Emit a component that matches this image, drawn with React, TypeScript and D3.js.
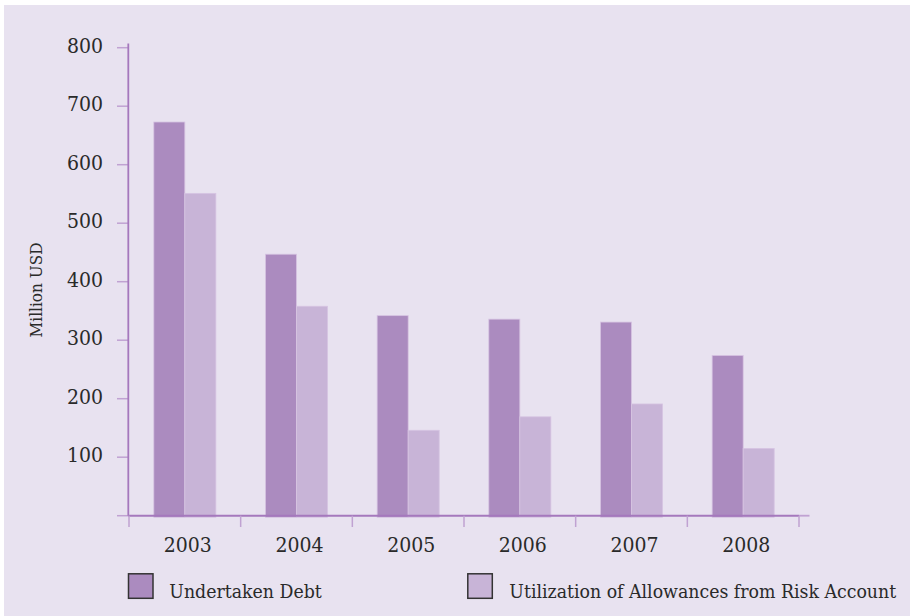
import React from "react";
import * as d3 from "d3";

const years = ["2003", "2004", "2005", "2006", "2007", "2008"];
const undertakenDebt = [673, 447, 342, 336, 331, 274];
const riskAllowances = [551, 358, 146, 169, 191, 115];
const seriesNames = ["Undertaken Debt", "Utilization of Allowances from Risk Account"];
const seriesColors = ["#AB8BBF", "#C8B4D7"];
const yTicks = [100, 200, 300, 400, 500, 600, 700, 800];
const yLabel = "Million USD";

const W = 910;
const H = 616;
const FONT = "'DejaVu Serif Condensed', 'Liberation Serif', serif";

export default function App() {
  const x = d3.scaleBand<string>().domain(years).range([129, 799]).paddingInner(0).paddingOuter(0);
  const xs = d3.scaleBand<string>().domain(["a", "b"]).range([0, x.bandwidth()]).paddingInner(0).paddingOuter(0.8);
  const y = d3.scaleLinear().domain([0, 800]).range([515.7, 47.7]);
  const base = y(0);
  const series = [undertakenDebt, riskAllowances];
  const boundaries = years.map((yr) => x(yr) as number).concat([x.range()[1]]);

  return (
    <svg width={W} height={H} style={{ position: "absolute", left: 0, top: 0 }} fontFamily={FONT}>
      <rect x={0} y={0} width={W} height={H} fill="#ffffff" />
      <rect x={4} y={5} width={W - 4} height={H - 5} fill="#E8E2F0" />

      {years.map((yr, i) => (
        <g key={yr} transform={`translate(${x(yr)},0)`}>
          {series.map((s, j) => (
            <rect
              key={j}
              x={(xs(j === 0 ? "a" : "b") as number)}
              y={y(s[i])}
              width={xs.bandwidth()}
              height={base - y(s[i]) + 1.5}
              fill={seriesColors[j]}
              stroke="#D6C4E2"
              strokeWidth={0.8}
            />
          ))}
        </g>
      ))}

      {yTicks.concat([0]).map((t) => (
        <line key={"yt" + t} x1={117} x2={128} y1={y(t)} y2={y(t)} stroke="#C0A2D2" strokeWidth={1.5} />
      ))}
      {yTicks.map((t) => (
        <text key={"yl" + t} x={103} y={y(t) + 4.8} textAnchor="end" fontSize={21} fill="#2a2a2a">
          {t}
        </text>
      ))}
      <line x1={128.3} x2={128.3} y1={43.5} y2={base} stroke="#A578BD" strokeWidth={1.8} />

      <line x1={799} x2={809.5} y1={base} y2={base} stroke="#C0A2D2" strokeWidth={1.8} />
      <line x1={128} x2={799} y1={base} y2={base} stroke="#A578BD" strokeWidth={2} />
      {boundaries.map((b, i) => (
        <line key={"xt" + i} x1={b} x2={b} y1={base} y2={527} stroke="#C0A2D2" strokeWidth={1.5} />
      ))}
      {years.map((yr) => (
        <text key={"xl" + yr} x={(x(yr) as number) + x.bandwidth() / 2 + 3} y={552} textAnchor="middle" fontSize={21} fill="#2a2a2a">
          {yr}
        </text>
      ))}

      <text transform={`translate(41.5,290) rotate(-90)`} textAnchor="middle" fontSize={17} fill="#2a2a2a">
        {yLabel}
      </text>

      {[
        { sx: 128.5, tx: 169.3 },
        { sx: 467.8, tx: 509.3 },
      ].map((p, j) => (
        <g key={"lg" + j}>
          <rect x={p.sx} y={573.8} width={24.5} height={24.5} fill={seriesColors[j]} stroke="#333333" strokeWidth={1.5} />
          <text x={p.tx} y={598} fontSize={19.3} fill="#2a2a2a">
            {seriesNames[j]}
          </text>
        </g>
      ))}
    </svg>
  );
}
